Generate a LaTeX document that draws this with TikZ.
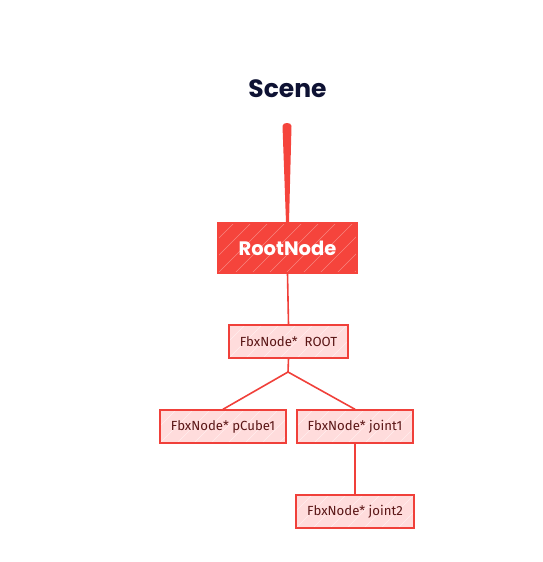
\documentclass[tikz,border=0pt]{standalone}
\usepackage{fontspec}
\setmainfont{Poppins}
\newfontfamily\labelfont{Fira Sans}
\usetikzlibrary{calc}
\definecolor{redstroke}{HTML}{F0403A}
\definecolor{redfill}{HTML}{F5443C}
\definecolor{pinkfill}{HTML}{FFDCDC}
\definecolor{maroon}{HTML}{5A1616}
\definecolor{navy}{HTML}{0E1233}
\tikzset{
  hachure/.style={path picture={
    \foreach \k in {-8,...,8}{
      \draw[white, opacity=#1, line width=0.6pt]
        ($(path picture bounding box.south west)+(\k*17pt,0)$) -- ++(60pt,60pt);
    }}},
  fbxbox/.style={draw=redstroke, line width=1.4pt, fill=pinkfill, minimum height=33pt, inner sep=0pt,
    text=maroon, font=\labelfont\fontsize{13.2}{14}\selectfont, hachure=0.5},
  rootbox/.style={draw=redfill, line width=1.2pt, fill=redfill, minimum width=139pt, minimum height=50pt,
    text=white, font=\fontsize{19.5}{20}\selectfont\bfseries, hachure=0.35},
  conn/.style={draw=redstroke, line width=1.6pt, line cap=round},
}
\begin{document}
\begin{tikzpicture}[x=1pt,y=-1pt]
\useasboundingbox (0,0) rectangle (542,562);
\node[text=navy, font=\fontsize{25}{27}\selectfont\bfseries] (scene) at (287.5,89) {Scene};
\coordinate (top) at (287,125);
\node[rootbox] (root) at (287.5,248) {RootNode};
\node[fbxbox, minimum width=119pt] (rootfbx) at (288.5,341.5) {FbxNode*\ \ ROOT};
\node[fbxbox, minimum width=126pt] (pcube) at (223,426.5) {FbxNode* pCube1};
\node[fbxbox, minimum width=116pt] (joint1) at (355,426.5) {FbxNode* joint1};
\node[fbxbox, minimum width=118pt] (joint2) at (355,511.5) {FbxNode* joint2};
\coordinate (branch) at (288,372);
% tapered stem
\fill[redfill] ($(top)+(-4.5,1)$) .. controls ($(top)+(-4.5,-3)$) and ($(top)+(4.5,-3)$) .. ($(top)+(4.5,1)$)
  -- ($(root.north)+(1.5,0)$) -- ($(root.north)+(-1.5,0)$) -- cycle;
\draw[conn] (root.south) -- (rootfbx.north);
\draw[conn] (rootfbx.south) -- (branch);
\draw[conn] (branch) -- (pcube.north);
\draw[conn] (branch) -- (joint1.north);
\draw[conn] (joint1.south) -- (joint2.north);
\end{tikzpicture}
\end{document}
